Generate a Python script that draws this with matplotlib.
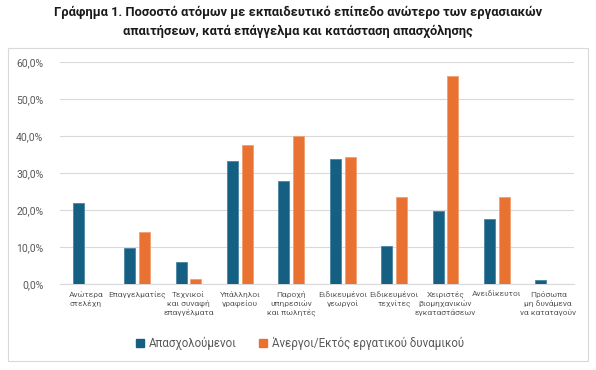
import matplotlib
matplotlib.use("Agg")
import matplotlib.pyplot as plt
from matplotlib.patches import Rectangle
from matplotlib.ticker import FuncFormatter
import numpy as np

plt.rcParams['font.family'] = ['Roboto', 'DejaVu Sans']

categories = ["Ανώτερα\nστελέχη", "Επαγγελματίες", "Τεχνικοί\nκαι συναφή\nεπαγγέλματα",
              "Υπάλληλοι\nγραφείου", "Παροχή\nυπηρεσιών\nκαι πωλητές", "Ειδικευμένοι\nγεωργοί",
              "Ειδικευμένοι\nτεχνίτες", "Χειριστές\nβιομηχανικών\nεγκαταστάσεων",
              "Ανειδίκευτοι", "Πρόσωπα\nμη δυνάμενα\nνα καταταγούν"]
employed = [21.8, 9.8, 6.0, 33.3, 27.8, 33.8, 10.4, 19.7, 17.7, 1.1]
unemployed = [0.0, 14.0, 1.35, 37.6, 40.1, 34.4, 23.4, 56.1, 23.5, 0.0]
series_names = ["Απασχολούμενοι", "Άνεργοι/Εκτός εργατικού δυναμικού"]
title = "Γράφημα 1. Ποσοστό ατόμων με εκπαιδευτικό επίπεδο ανώτερο των εργασιακών\nαπαιτήσεων, κατά επάγγελμα και κατάσταση απασχόλησης"

W, H = 596, 370
fig = plt.figure(figsize=(W/100, H/100), dpi=100)

# outer frame
fig.patches.append(Rectangle((8/W, 1-361/H), 580/W, 313/H, transform=fig.transFigure,
                             fill=False, edgecolor='#d9d9d9', linewidth=0.8))

ax = fig.add_axes([60/W, 1-284/H, 514/W, 222/H])
x = np.arange(len(categories))
bw = 0.215
off = 0.145
c1, c2 = '#156082', '#E97132'
ax.bar(x - off, employed, bw, color=c1, edgecolor='#4a86a3', linewidth=0.6, zorder=3)
ax.bar(x + off, unemployed, bw, color=c2, edgecolor='#f0a070', linewidth=0.6, zorder=3)

ax.set_xlim(-0.5, len(categories) - 0.5)
ax.set_ylim(0, 60)
ax.set_yticks(np.arange(0, 61, 10))
ax.yaxis.set_major_formatter(FuncFormatter(lambda v, p: f"{v:.1f}%".replace('.', ',')))
ax.grid(axis='y', color='#d9d9d9', linewidth=0.8, zorder=0)
for s in ['top', 'right', 'left']:
    ax.spines[s].set_visible(False)
ax.spines['bottom'].set_color('#d9d9d9')
ax.tick_params(axis='y', length=0, labelsize=7.5, labelcolor='#595959', pad=12)
ax.set_xticks(x)
ax.set_xticklabels(categories, fontsize=6.0, color='#595959', linespacing=1.3)
ax.tick_params(axis='x', length=0, pad=5)

fig.text(298/W, 1-22/H, title, ha='center', va='center', fontsize=9.3,
         fontweight='bold', color='#1a1a1a', linespacing=1.5)

# legend
handles = [Rectangle((0, 0), 1, 1, color=c1), Rectangle((0, 0), 1, 1, color=c2)]
fig.legend(handles, series_names, loc='center', bbox_to_anchor=(300/W, 1-343/H),
           ncol=2, frameon=False, fontsize=8.3, handlelength=0.7, handleheight=0.7,
           handletextpad=0.4, columnspacing=2.0, labelcolor='#595959')

fig.savefig("out.png", dpi=100)
